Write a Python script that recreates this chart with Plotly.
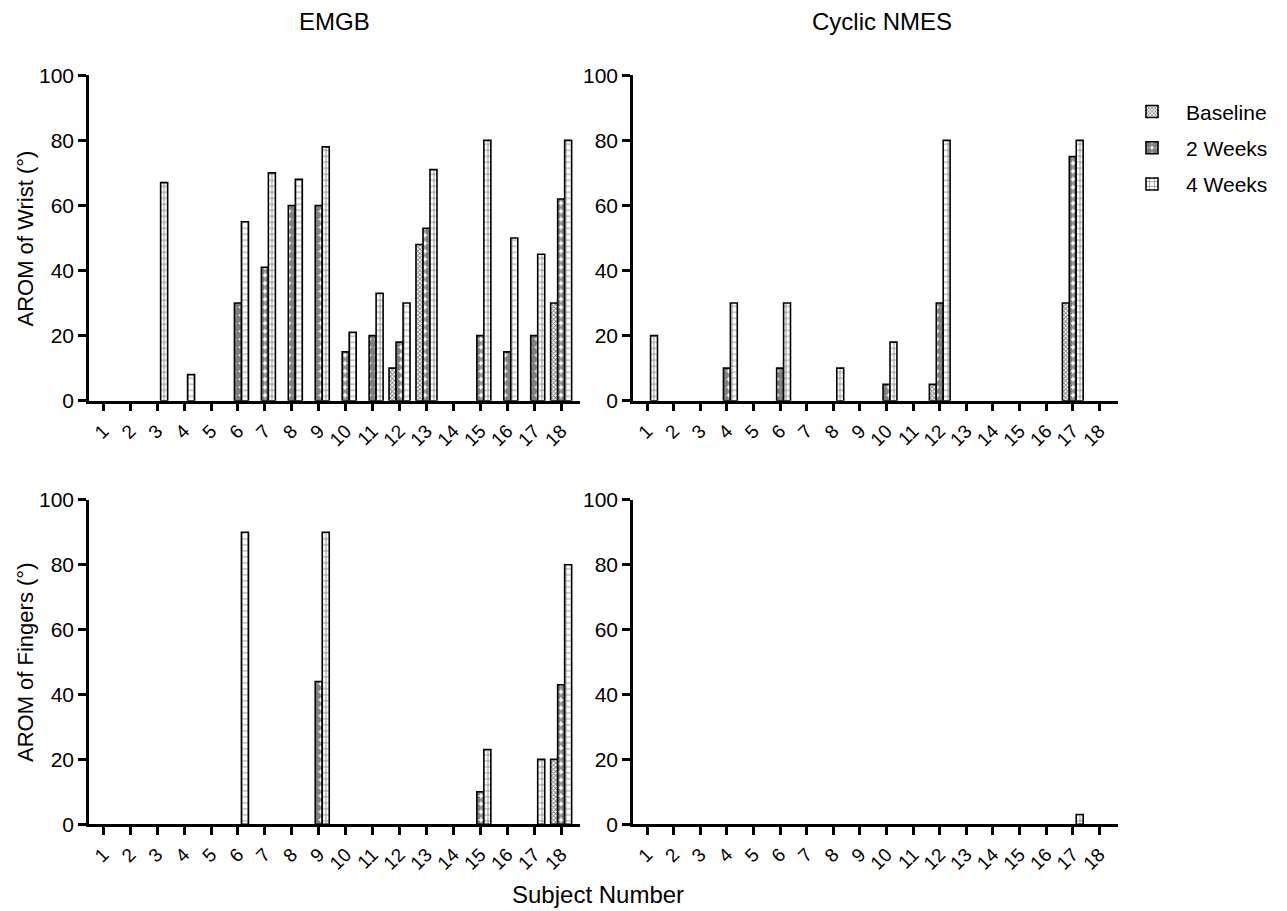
import plotly.graph_objects as go

subjects = list(range(1, 19))
tick_labels = [str(s) for s in subjects]

# EMGB - wrist
emgb_wrist_baseline = [0, 0, 0, 0, 0, 0, 0, 0, 0, 0, 0, 10, 48, 0, 0, 0, 0, 30]
emgb_wrist_2wk      = [0, 0, 0, 0, 0, 30, 41, 60, 60, 15, 20, 18, 53, 0, 20, 15, 20, 62]
emgb_wrist_4wk      = [0, 0, 67, 8, 0, 55, 70, 68, 78, 21, 33, 30, 71, 0, 80, 50, 45, 80]

# Cyclic NMES - wrist
nmes_wrist_baseline = [0, 0, 0, 0, 0, 0, 0, 0, 0, 0, 0, 5, 0, 0, 0, 0, 30, 0]
nmes_wrist_2wk      = [0, 0, 0, 10, 0, 10, 0, 0, 0, 5, 0, 30, 0, 0, 0, 0, 75, 0]
nmes_wrist_4wk      = [20, 0, 0, 30, 0, 30, 0, 10, 0, 18, 0, 80, 0, 0, 0, 0, 80, 0]

# EMGB - fingers
emgb_fing_baseline = [0, 0, 0, 0, 0, 0, 0, 0, 0, 0, 0, 0, 0, 0, 0, 0, 0, 20]
emgb_fing_2wk      = [0, 0, 0, 0, 0, 0, 0, 0, 44, 0, 0, 0, 0, 0, 10, 0, 0, 43]
emgb_fing_4wk      = [0, 0, 0, 0, 0, 90, 0, 0, 90, 0, 0, 0, 0, 0, 23, 0, 20, 80]

# Cyclic NMES - fingers
nmes_fing_baseline = [0] * 18
nmes_fing_2wk      = [0] * 18
nmes_fing_4wk      = [0, 0, 0, 0, 0, 0, 0, 0, 0, 0, 0, 0, 0, 0, 0, 0, 3, 0]

series_names = ["Baseline", "2 Weeks", "4 Weeks"]
panels = [
    ("x", "y", [emgb_wrist_baseline, emgb_wrist_2wk, emgb_wrist_4wk]),
    ("x2", "y2", [nmes_wrist_baseline, nmes_wrist_2wk, nmes_wrist_4wk]),
    ("x3", "y3", [emgb_fing_baseline, emgb_fing_2wk, emgb_fing_4wk]),
    ("x4", "y4", [nmes_fing_baseline, nmes_fing_2wk, nmes_fing_4wk]),
]

patterns = [
    dict(shape="x", size=3, solidity=0.5, fgcolor="black", bgcolor="white"),
    dict(shape=".", size=8, solidity=0.75, fgcolor="black", bgcolor="white"),
    dict(shape="+", size=6, solidity=0.25, fgcolor="black", bgcolor="white"),
]

FONT = "Arial, Liberation Sans, sans-serif"
fig = go.Figure()
for pi, (xa, ya, data) in enumerate(panels):
    for si, vals in enumerate(data):
        fig.add_trace(go.Bar(
            x=subjects, y=[v if v else None for v in vals],
            name=series_names[si], xaxis=xa, yaxis=ya,
            marker=dict(color="white", pattern=patterns[si],
                        line=dict(color="black", width=1.6)),
            showlegend=(pi == 0), legendgroup=series_names[si],
        ))

OFF = 8  # page body margin in the browser
W, H = 1287 - 2 * OFF, 911 - OFF
KY, BY = 0.9733, 13.0  # vertical calibration observed in previous renders

def px(v):
    return (v - OFF) / W

def py(v):
    design = (v - BY) / KY
    return 1 - (design - OFF) / H

xd_left = [px(89), px(580)]
xd_right = [px(633), px(1118)]
yd_top = [py(401), py(76)]
yd_bot = [py(824), py(500)]

def xaxis(domain, anchor):
    return dict(domain=domain, anchor=anchor, range=[0.47, 18.7], tickmode="array",
                tickvals=subjects, ticktext=tick_labels, tickangle=-45,
                showline=True, linecolor="black", linewidth=2.5,
                ticks="outside", ticklen=8, tickwidth=2.5, tickcolor="black",
                ticklabelstandoff=1,
                showgrid=False, zeroline=False,
                tickfont=dict(family=FONT, size=19, color="black"))

def yaxis(domain, anchor):
    return dict(domain=domain, anchor=anchor, range=[0, 100], tickvals=[0, 20, 40, 60, 80, 100],
                showline=True, linecolor="black", linewidth=2.5,
                ticks="outside", ticklen=8, tickwidth=2.5, tickcolor="black",
                showgrid=False, zeroline=False,
                tickfont=dict(family=FONT, size=21, color="black"))

def ann(text, x, y, size, angle=0):
    return dict(text=text, x=px(x), y=py(y), xref="paper", yref="paper",
                xanchor="center", yanchor="middle", showarrow=False,
                textangle=angle, font=dict(family=FONT, size=size, color="black"))

fig.update_layout(
    width=W, height=H,
    margin=dict(l=0, r=0, t=0, b=0),
    paper_bgcolor="white", plot_bgcolor="white",
    barmode="group", bargap=0.22, bargroupgap=0,
    font=dict(family=FONT, color="black"),
    xaxis=xaxis(xd_left, "y"), yaxis=yaxis(yd_top, "x"),
    xaxis2=xaxis(xd_right, "y2"), yaxis2=yaxis(yd_top, "x2"),
    xaxis3=xaxis(xd_left, "y3"), yaxis3=yaxis(yd_bot, "x3"),
    xaxis4=xaxis(xd_right, "y4"), yaxis4=yaxis(yd_bot, "x4"),
    legend=dict(x=px(1118), y=py(92), xanchor="left", yanchor="top",
                font=dict(family=FONT, size=21, color="black"),
                itemwidth=58, tracegroupgap=6, bgcolor="rgba(0,0,0,0)"),
    annotations=[
        ann("EMGB", 334, 22, 24),
        ann("Cyclic NMES", 882, 22, 24),
        ann("AROM of Wrist (°)", 25, 239, 22, -90),
        ann("AROM of Fingers (°)", 25, 662, 22, -90),
        ann("Subject Number", 598, 894, 24),
    ],
)

fig.write_html("out.html")
